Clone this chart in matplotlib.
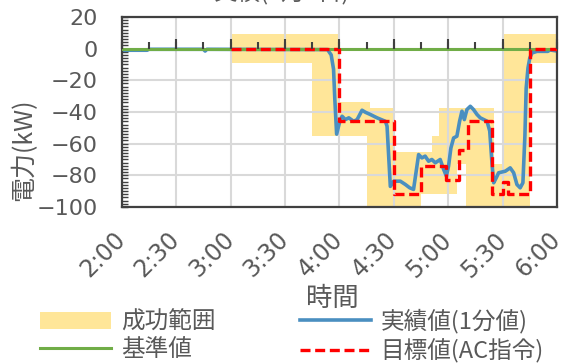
import matplotlib
matplotlib.use('Agg')
import matplotlib.pyplot as plt
from matplotlib.ticker import MultipleLocator
import numpy as np

plt.rcParams['font.family'] = ['Noto Sans CJK JP', 'DejaVu Sans']

# 時間は2:00からの経過分
tick_labels = ['2:00', '2:30', '3:00', '3:30', '4:00', '4:30', '5:00', '5:30', '6:00']

# 実績値(1分値)
act_t = [0, 14, 15, 45, 46, 47, 113.5, 115.5, 116.8, 117.5, 118.5, 120.2, 121.5, 123.3, 125.2,
         127.9, 129.8, 132.5, 134.4, 137.1, 140.8, 145.4, 146.3, 147.2, 148.1, 150, 153.6,
         156.4, 158.8, 160.9, 163.7, 165.5, 167.3, 169.2, 171, 172.9, 175.6, 177.5, 179,
         180.2, 181.5, 183, 184.8, 186.3, 187.6, 188.9, 190.3, 192.2, 194, 195.9, 197.7,
         201.4, 202.9, 204.2, 205.1, 206.5, 207.8, 211.5, 214.2, 216.1, 217.9, 219.7, 221.2,
         222.3, 223, 224, 225, 226.2, 229, 235, 236, 240]
act_v = [-1, -1, -0.4, -0.4, -1.5, -0.4, -0.6, -4, -13, -32, -54, -46, -42.7, -44.8, -43.7,
         -45.9, -44.8, -38.9, -40.2, -41.6, -43.7, -45.9, -49, -68, -87, -83.7, -83.7,
         -85.8, -87.9, -88.9, -66.9, -69, -67.9, -71.1, -70, -72.1, -70, -76.3, -80.5,
         -74.2, -62.7, -56.4, -55.3, -45.8, -39.5, -44.8, -38.5, -36.4, -38.5, -41.6, -43.7,
         -45.8, -52, -73.2, -84.7, -81.6, -78.4, -77.4, -75.3, -78.4, -85.8, -87.9, -84.7,
         -55, -25, -12.2, -5.9, -2.7, -1.7, -1.7, -0.8, -1.5]

# 目標値(AC指令)
tgt_t = [60, 120, 150, 165, 179, 186, 191, 204, 210, 213, 225, 240]
tgt_v = [0, -46, -92, -74, -83, -64, -46, -92, -84, -92, 0, 0]

# 成功範囲
rng_t = [60, 105, 120, 135, 137, 150, 165, 171, 175, 185, 190, 205, 210, 225, 240]
rng_hi = [9, 9, -34, -34, -37.5, -65, -65, -55, -37.5, -37.5, -37.5, -73, 9, 9, 9]
rng_lo = [-9, -55, -55, -105, -105, -105, -92, -92, -92, -73, -105, -105, -105, -9, -9]

# 基準値
base_t = [0, 240]
base_v = [0, 0]

gray = '#595959'
fs = 17

fig = plt.figure(figsize=(5.64, 3.63), dpi=100)
ax = fig.add_axes([0.2158, 0.4298, 0.7718, 0.5234])

ax.fill_between(rng_t, rng_lo, rng_hi, step='post', color='#FFE699', lw=0, zorder=0.8,
                label='成功範囲')
ax.plot(act_t, act_v, color='#4A8FC0', lw=2.6, zorder=2, label='実績値(1分値)')
ax.plot(base_t, base_v, color='#70AD47', lw=2.2, zorder=3, label='基準値')
ax.plot(tgt_t, tgt_v, color='#FF0000', lw=2.4, drawstyle='steps-post', zorder=4,
        dashes=(3, 1.4), label='目標値(AC指令)')

# 0の線上の目盛り(15分ごと、30分は長め)
minor_x = np.arange(0, 241, 15)
major_x = np.arange(0, 241, 30)
ax.plot(minor_x, np.zeros(len(minor_x)), ls='none', marker=2, ms=5, mew=1.5,
        color='#404040', zorder=5, clip_on=False)
ax.plot(major_x, np.zeros(len(major_x)), ls='none', marker=2, ms=7, mew=1.5,
        color='#404040', zorder=5, clip_on=False)

ax.set_xlim(0, 240)
ax.set_ylim(-100, 20)
ax.set_xticks(major_x)
ax.set_xticklabels(tick_labels, rotation=45, ha='right', va='center',
                   rotation_mode='anchor', color=gray, fontsize=17, family='DejaVu Sans')
ax.yaxis.set_major_locator(MultipleLocator(20))
ax.yaxis.set_minor_locator(MultipleLocator(2))
ax.tick_params(axis='x', length=0, pad=21)
ax.tick_params(axis='y', which='both', direction='in', length=4, width=1,
               colors='#404040', labelcolor=gray, labelsize=16, pad=17)
for t in ax.get_yticklabels():
    t.set_family('DejaVu Sans')
ax.grid(True, color='#D9D9D9', lw=1.5, zorder=1)
for s in ax.spines.values():
    s.set_color('#404040')
    s.set_linewidth(1.6)

ax.set_xlabel('時間', color=gray, fontsize=19)
ax.xaxis.set_label_coords(0.485, -0.48)
ax.xaxis.label.set_va('center')
ax.set_ylabel('電力(kW)', color=gray, fontsize=18)
ax.yaxis.set_label_coords(-0.225, 0.3)
ax.yaxis.label.set_va('center')

fig.text(0.5, 1 + 1 / 363, '実績(2月1日)', ha='center', va='baseline', color=gray,
         fontsize=fs)

h, l = ax.get_legend_handles_labels()
order = [0, 2, 1, 3]
fig.legend([h[i] for i in order], [l[i] for i in order], ncol=2, frameon=False,
           loc='upper left', bbox_to_anchor=(0.055, 0.175), fontsize=fs, labelcolor=gray,
           handlelength=3.0, columnspacing=3.6, handletextpad=0.4, labelspacing=0.2,
           borderaxespad=0)

fig.savefig('out.png', dpi=100)
